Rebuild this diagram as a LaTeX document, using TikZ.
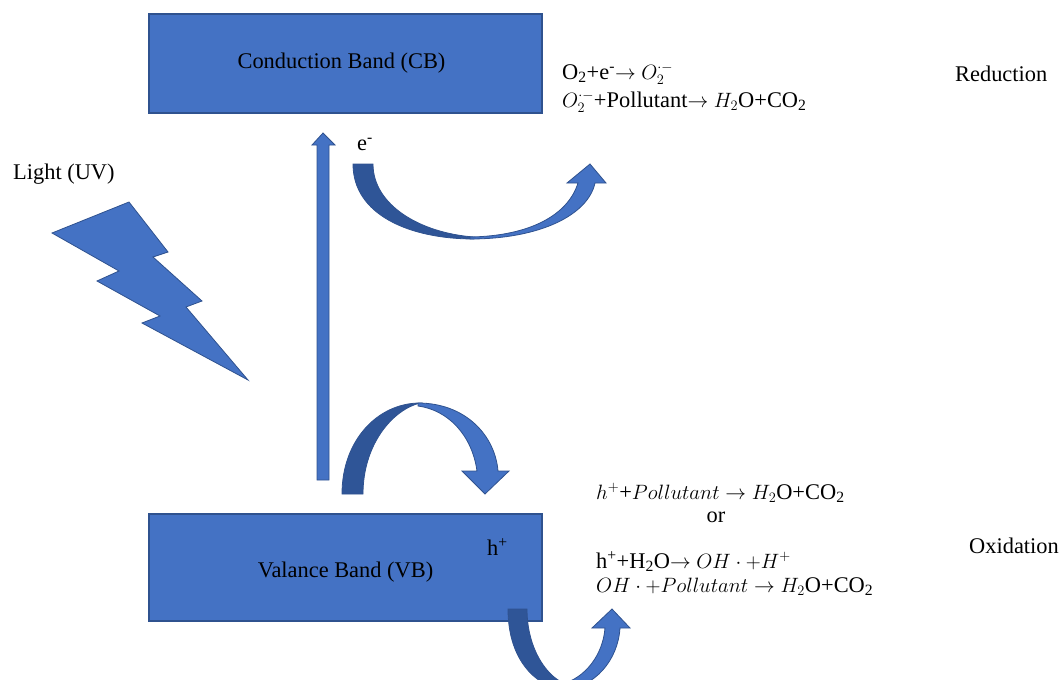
\documentclass[tikz,border=0pt]{standalone}
\usepackage{fontspec}
\setmainfont{Liberation Serif}
\usetikzlibrary{positioning,calc}

\definecolor{bandblue}{HTML}{4472C4}
\definecolor{banddark}{HTML}{2F5597}
\definecolor{bandedge}{HTML}{2F528F}

\begin{document}
\begin{tikzpicture}[
  x=1pt,y=-1pt,
  font=\fontsize{22.4}{27}\selectfont,
  band/.style={draw=bandedge,line width=1.3pt,fill=bandblue,minimum width=393pt,inner sep=0pt},
  blk/.style={fill=bandblue,draw=bandedge,line width=0.8pt,line join=miter},
  blkdark/.style={fill=banddark,draw=bandedge,line width=0.8pt},
  txt/.style={anchor=base west,inner sep=0pt},
]
  \useasboundingbox (0,0) rectangle (1063,680);
  \clip (0,0) rectangle (1063,680);

  % the two bands
  \node[band,minimum height=99pt] (CB) at (345.5,63.5) {};
  \node (CBtxt) at ($(CB.center)+(-4,0)$) {Conduction Band (CB)};
  \node[band,minimum height=107pt] (VB) at (345.5,567.5) {};
  \node (VBtxt) at ($(VB.center)+(0,5)$) {Valance Band (VB)};
  \node[txt] (hp) at (487,555) {h\textsuperscript{+}};
  \node[txt] (em) at (357,150) {e\textsuperscript{-}};

  % light
  \node[txt] (light) at (13,179) {Light (UV)};
  \draw[blk] (52,233) -- (129,202) -- (168,252) -- (153,257) -- (202,301) -- (186,307)
    -- (248,380) -- (142,323) -- (160,316) -- (97,281) -- (119,271) -- cycle;

  % excitation arrow VB -> CB
  \coordinate (exbot) at (323,480);
  \coordinate (extop) at (323,133);
  \draw[blk] ($(exbot)+(-6,0)$) -- (317,145) -- (312,145) -- (extop) -- (335,145)
    -- (329,145) -- ($(exbot)+(6,0)$) -- cycle;

  % electron to reduction
  \draw[blkdark] (353,164) .. controls (353,215) and (410,239) .. (474,239)
    -- (474,237) .. controls (420,233) and (373,205) .. (373,164) -- cycle;
  \draw[blk] (470,239) .. controls (540,239) and (588,215) .. (595,183)
    -- (606,183) -- (590,164) -- (567,183) -- (578,183)
    .. controls (568,215) and (530,236) .. (470,237) -- cycle;

  % relaxation arc
  \draw[blkdark] (342,494) .. controls (342,440) and (378,403) .. (420,403)
    .. controls (392,410) and (363,445) .. (363,494) -- cycle;
  \draw[blk] (418,403) .. controls (465,403) and (495,435) .. (498,471)
    -- (509,471) -- (485,494) -- (462,471) -- (477,471)
    .. controls (472,435) and (448,410) .. (418,406) -- cycle;

  % hole to oxidation
  \draw[blkdark] (508,609) .. controls (508,662) and (538,688) .. (566,690)
    -- (566,684) .. controls (548,678) and (527,650) .. (527,609) -- cycle;
  \draw[blk] (562,690) .. controls (595,688) and (618,660) .. (620,628)
    -- (630,628) -- (612,609) -- (592,628) -- (605,628)
    .. controls (603,655) and (585,678) .. (562,684) -- cycle;

  % reduction side
  \node[txt] (red1) at (562,79.5) {O\textsubscript{2}+e\textsuperscript{-}$\rightarrow$ $O_2^{\cdot -}$};
  \node[txt] (red2) at (562,107) {$O_2^{\cdot -}$+Pollutant$\rightarrow$ $H_2$O+CO\textsubscript{2}};
  \node[txt] (redlab) at (955,81) {Reduction};

  % oxidation side
  \node[txt] (ox1) at (596,499) {$h^{+}$+$Pollutant\rightarrow H_2$O+CO\textsubscript{2}};
  \node[anchor=base,inner sep=0pt] (oxor) at (716,522) {or};
  \node[txt] (ox2) at (596,568) {h\textsuperscript{+}+H\textsubscript{2}O$\rightarrow$ $OH\cdot{+}H^{+}$};
  \node[txt] (ox3) at (596,592) {$OH\cdot{+}Pollutant\rightarrow H_2$O+CO\textsubscript{2}};
  \node[txt] (oxlab) at (969,553) {Oxidation};
\end{tikzpicture}
\end{document}
